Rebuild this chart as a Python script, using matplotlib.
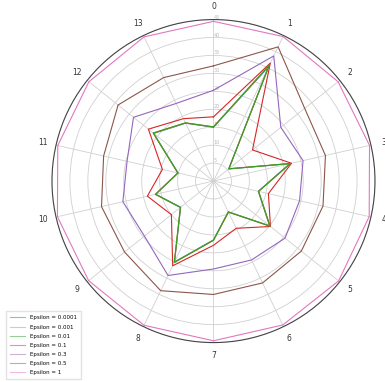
import numpy as np
import matplotlib
matplotlib.use("Agg")
import matplotlib.pyplot as plt

categories = [str(i) for i in range(14)]

eps_labels = ["Epsilon = 0.0001", "Epsilon = 0.001", "Epsilon = 0.01",
              "Epsilon = 0.1", "Epsilon = 0.3", "Epsilon = 0.5", "Epsilon = 1"]

eps_0001 = [15.0, 35.3, 5.4, 21.8, 12.8, 20.0, 9.5, 16.4, 25.0, 11.7, 16.5, 10.1, 21.3, 17.9]
eps_001 = [15.1, 35.7, 5.5, 22.0, 12.9, 20.1, 9.6, 16.5, 25.1, 11.8, 16.6, 10.2, 21.4, 18.0]
eps_01 = [15.1, 36.0, 5.5, 22.0, 12.9, 20.2, 9.6, 16.5, 25.2, 11.8, 16.6, 10.2, 21.5, 18.0]
eps_1e1 = [17.9, 36.5, 13.9, 22.3, 15.7, 20.3, 14.6, 17.9, 26.2, 15.0, 18.9, 14.6, 23.2, 19.3]
eps_3e1 = [25.3, 38.7, 24.0, 25.6, 24.6, 25.5, 24.4, 24.5, 29.2, 24.6, 25.9, 24.7, 28.5, 24.0]
eps_5e1 = [32.1, 41.5, 32.5, 32.0, 31.3, 31.3, 31.5, 31.6, 33.9, 31.7, 32.0, 31.4, 34.0, 32.0]
eps_1 = [44.5, 44.7, 44.4, 44.6, 44.5, 44.6, 44.5, 44.5, 44.6, 44.5, 44.6, 44.5, 44.4, 44.6]

series = [eps_0001, eps_001, eps_01, eps_1e1, eps_3e1, eps_5e1, eps_1]
colors = ["#1f77b4", "#ff7f0e", "#2ca02c", "#d62728", "#9467bd", "#8c564b", "#e377c2"]

rticks = [5, 10, 15, 20, 25, 30, 35, 40, 45]

fig = plt.figure(figsize=(3.85, 3.82), dpi=100)
ax = fig.add_axes([0.135, 0.103, 0.839, 0.846], projection="polar")
ax.set_theta_zero_location("N")
ax.set_theta_direction(-1)

n = len(categories)
angles = np.linspace(0, 2 * np.pi, n, endpoint=False)
closed = np.concatenate([angles, angles[:1]])

zorders = [10, 11, 12, 6, 5, 4, 3]
for i in [6, 5, 4, 3, 0, 1, 2]:
    vals = np.concatenate([series[i], series[i][:1]])
    ax.plot(closed, vals, color=colors[i], linewidth=0.8, label=eps_labels[i],
            zorder=zorders[i])

ax.set_xticks(angles)
ax.set_xticklabels(categories, fontsize=5.5, color="#333333")
ax.tick_params(axis="x", pad=-1)
ax.set_ylim(0, 45)
ax.set_yticks(rticks)
ax.set_yticklabels([str(t) for t in rticks], fontsize=3.5, color="#bbbbbb")
ax.set_rlabel_position(0)
ax.grid(color="#d0d0d0", linewidth=0.6)
ax.spines["polar"].set_color("#444444")
ax.spines["polar"].set_linewidth(0.8)

handles, labels = ax.get_legend_handles_labels()
hmap = dict(zip(labels, handles))
leg = fig.legend([hmap[l] for l in eps_labels], eps_labels, loc="lower left",
                 bbox_to_anchor=(0.008, 0.0), fontsize=4.0, frameon=True,
                 handlelength=2.8, handletextpad=0.8, labelspacing=0.75,
                 borderpad=0.7, fancybox=False, edgecolor="#dddddd")
for h in leg.get_lines():
    h.set_alpha(0.5)

fig.savefig("out.png", dpi=100)
